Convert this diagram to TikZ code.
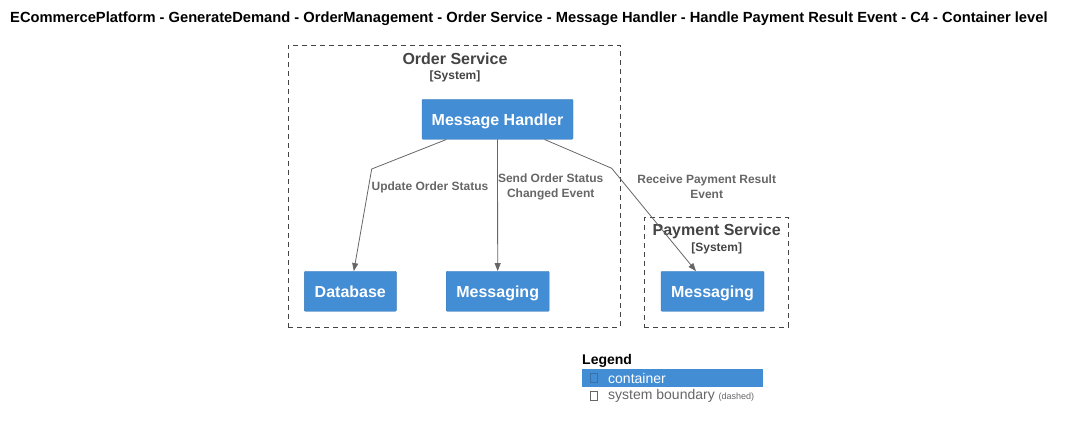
\documentclass[tikz,border=0pt]{standalone}
\usepackage{fontspec}
\setmainfont{Liberation Sans}
\usetikzlibrary{arrows.meta}
\definecolor{c4blue}{HTML}{438DD5}
\definecolor{c4line}{HTML}{666666}
\definecolor{c4title}{HTML}{444444}
\tikzset{
  container/.style={shape=rectangle,fill=c4blue,draw=c4blue!85!black,line width=0.4pt,
    rounded corners=1pt,text=white,font=\bfseries\fontsize{16}{18}\selectfont,
    minimum height=40pt,inner sep=0pt,text height=14pt,text depth=0.6pt},
  boundary/.style={shape=rectangle,draw=c4title,dash pattern=on 5pt off 4pt,line width=0.8pt,inner sep=0pt},
  rel/.style={draw=c4line,line width=0.8pt,-{Triangle[length=8pt,width=6pt]}},
  rellabel/.style={text=c4line,font=\bfseries\fontsize{12}{15}\selectfont,align=center,inner sep=0pt},
}
\begin{document}
\begin{tikzpicture}[x=1pt,y=-1pt]
        \useasboundingbox (0,0) rectangle (1069,430);
        \node[anchor=west,inner sep=0pt,font=\bfseries\fontsize{14.7}{16}\selectfont] (title) at (10,19)
            {ECommercePlatform - GenerateDemand - OrderManagement - Order Service - Message Handler - Handle Payment Result Event - C4 - Container level};

        % boundaries
        \node[boundary,minimum width=332pt,minimum height=282pt] (orderbound) at (454,186) {};
        \node[text=c4title,font=\bfseries\fontsize{16}{18}\selectfont] (ordername) at (455,58.5) {Order Service};
        \node[text=c4title,font=\bfseries\fontsize{12}{14}\selectfont] (ordertype) at (455,76) {[System]};
        \node[boundary,minimum width=144pt,minimum height=109.5pt] (paymentbound) at (716.3,272.3) {};
        \node[text=c4title,font=\bfseries\fontsize{16}{18}\selectfont] (paymentname) at (716.7,231) {Payment Service};
        \node[text=c4title,font=\bfseries\fontsize{12}{14}\selectfont] (paymenttype) at (716.7,248) {[System]};

        % containers
        \node[container,minimum width=151pt] (handler) at (497.5,119.3) {Message Handler};
        \node[container,minimum width=92pt] (database) at (350.3,291.3) {Database};
        \node[container,minimum width=103pt] (ordermsg) at (497.7,291.3) {Messaging};
        \node[container,minimum width=103pt] (paymentmsg) at (712.5,291.3) {Messaging};

        % relations
        \coordinate (bend1) at (371.7,169);
        \coordinate (bend2) at (611.7,168.3);
        \draw[rel] (handler) -- (bend1) -- (database);
        \draw[rel] (handler) -- (ordermsg);
        \draw[rel] (handler) -- (bend2) -- (paymentmsg);
        \node[rellabel] (lbl1) at (430,187) {Update Order Status};
        \node[rellabel] (lbl2) at (550.7,186.5) {Send Order Status\\Changed Event};
        \node[rellabel] (lbl3) at (706.7,186.5) {Receive Payment Result\\Event};

        % legend
        \node[anchor=west,font=\bfseries\fontsize{14}{16}\selectfont,inner sep=0pt] (legend) at (582,361) {Legend};
        \node[fill=c4blue,minimum width=181.6pt,minimum height=17.4pt,inner sep=0pt] (legbar) at (672.5,378) {};
        \node[draw=c4blue!80!black,line width=0.5pt,minimum width=6.5pt,minimum height=9.5pt,inner sep=0pt] (legbox1) at (593.7,378) {};
        \node[anchor=west,text=white,font=\fontsize{14}{16}\selectfont,inner sep=0pt] (legtext1) at (608,378) {container};
        \node[draw=c4line,line width=0.7pt,minimum width=6.5pt,minimum height=9pt,inner sep=0pt] (legbox2) at (593.7,396) {};
        \node[anchor=west,text=c4line,font=\fontsize{14}{16}\selectfont,inner sep=0pt] (legtext2) at (608,396)
            {system boundary {\fontsize{9}{10}\selectfont (dashed)}};
\end{tikzpicture}
\end{document}
